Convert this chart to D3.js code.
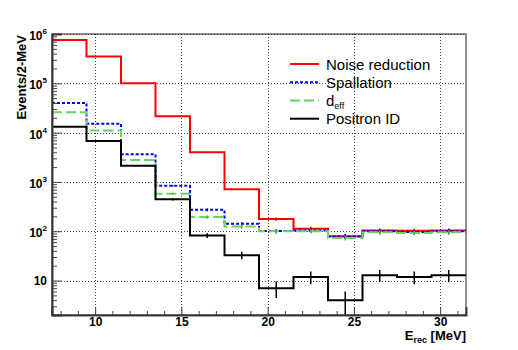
<!DOCTYPE html>
<html>
<head>
<meta charset="utf-8">
<script src="https://cdn.jsdelivr.net/npm/d3@7"></script>
<style>
  body { margin: 0; background: #fff; }
  text { font-family: "Liberation Sans", Arial, sans-serif; }
</style>
</head>
<body>
<svg width="518" height="350"></svg>
<script>
// Bin edges of the 2-MeV histogram bins
const binEdges = [7.5, 9.5, 11.5, 13.5, 15.5, 17.5, 19.5, 21.5, 23.5, 25.5, 27.5, 29.5, 31.5];

// Events per bin after each cut step
const noiseReduction = [7.6e5, 3.5e5, 1.0e5, 2.15e4, 4.0e3, 710, 176, 112, 79, 103, 102, 103];
const noiseErr       = [870, 590, 316, 147, 63, 27, 13, 10.6, 8.9, 10.1, 10.1, 10.1];
const spallation     = [4.0e4, 1.52e4, 3640, 838, 272, 141, 101, 103, 78, 100, 96, 100];
const spallationErr  = [200, 123, 60, 29, 16.5, 11.9, 10, 10.1, 8.8, 10, 9.8, 10];
const dEff           = [2.6e4, 1.1e4, 2790, 576, 194, 125, 100, 100, 73, 95, 92, 95];
const dEffErr        = [161, 105, 53, 24, 14, 11.2, 10, 10, 8.5, 9.7, 9.6, 9.7];
const positronId     = [1.32e4, 6780, 2140, 443, 82, 32.7, 7.0, 11.8, 4.0, 12.8, 11.8, 12.8];
const positronErr    = [115, 82, 46, 21, 9.1, 5.7, 2.6, 3.4, 2.0, 3.6, 3.4, 3.6];

// Axis ticks
const xTicks = [10, 15, 20, 25, 30];
const xMinorTicks = [8, 9, 11, 12, 13, 14, 16, 17, 18, 19, 21, 22, 23, 24, 26, 27, 28, 29, 31];
const yTicks = [10, 1e2, 1e3, 1e4, 1e5, 1e6];
const yTickExp = ["", "2", "3", "4", "5", "6"];

const svg = d3.select("svg");
const frame = { left: 52, right: 466, top: 34, bottom: 315 };

const x = d3.scaleLinear().domain([7.5, 31.5]).range([frame.left, frame.right]);
const y = d3.scaleLog().domain([2, 1e6]).range([frame.bottom, frame.top]);

// grid
const grid = svg.append("g").attr("class", "grid")
    .attr("stroke", "#444").attr("stroke-width", 1).attr("stroke-dasharray", "1,2");
xTicks.forEach(t => {
    grid.append("line")
        .attr("x1", Math.round(x(t)) + 0.5).attr("x2", Math.round(x(t)) + 0.5)
        .attr("y1", frame.top).attr("y2", frame.bottom);
});
yTicks.forEach(t => {
    grid.append("line")
        .attr("x1", frame.left).attr("x2", frame.right)
        .attr("y1", Math.round(y(t)) + 0.5).attr("y2", Math.round(y(t)) + 0.5);
});

// histograms
const series = [
    { name: "Noise reduction", values: noiseReduction, errs: noiseErr, color: "#ff0000", dash: null },
    { name: "Spallation", values: spallation, errs: spallationErr, color: "#0000ff", dash: "3,2" },
    { name: "deff", values: dEff, errs: dEffErr, color: "#66d466", dash: "10,4" },
    { name: "Positron ID", values: positronId, errs: positronErr, color: "#000000", dash: null }
];

const stepLine = d3.line().x(p => x(p[0])).y(p => y(p[1]));

series.forEach(s => {
    const pts = s.values.flatMap((v, i) => [[binEdges[i], v], [binEdges[i + 1], v]]);
    svg.append("path")
        .attr("d", stepLine(pts))
        .attr("fill", "none")
        .attr("stroke", s.color)
        .attr("stroke-width", 2)
        .attr("stroke-dasharray", s.dash);

    svg.append("g").selectAll("line")
        .data(s.values)
        .join("line")
        .attr("x1", (v, i) => x((binEdges[i] + binEdges[i + 1]) / 2))
        .attr("x2", (v, i) => x((binEdges[i] + binEdges[i + 1]) / 2))
        .attr("y1", (v, i) => y(Math.max(v - s.errs[i], 2)))
        .attr("y2", (v, i) => y(v + s.errs[i]))
        .attr("stroke", s.color === "#000000" ? "#000" : d3.color(s.color).darker(0.6))
        .attr("stroke-width", 1.5);
});

// axes (ROOT style: ticks pointing inside)
const xAxis = svg.append("g")
    .attr("transform", `translate(0,${frame.bottom})`)
    .call(d3.axisBottom(x).tickValues(xTicks).tickSize(-8).tickPadding(2).tickFormat(d3.format("d")));
svg.append("g")
    .attr("transform", `translate(0,${frame.bottom})`)
    .call(d3.axisBottom(x).tickValues(xMinorTicks).tickSize(-4).tickFormat(""))
    .call(g => g.select(".domain").remove());

const yAxis = svg.append("g")
    .attr("transform", `translate(${frame.left},0)`)
    .call(d3.axisLeft(y).tickValues(yTicks).tickSize(-10).tickPadding(5).tickFormat(""));
svg.append("g")
    .attr("transform", `translate(${frame.left},0)`)
    .call(d3.axisLeft(y).tickValues(y.ticks().filter(t => !yTicks.includes(t))).tickSize(-5).tickFormat(""))
    .call(g => g.select(".domain").remove());

svg.selectAll(".tick line").attr("stroke", "#444");
svg.selectAll(".domain").attr("stroke", "#444").attr("stroke-width", 2);

xAxis.selectAll(".tick text")
    .attr("font-size", 12).attr("font-weight", "bold").attr("fill", "#000")
    .attr("font-family", "Liberation Sans, Arial, sans-serif");

// y tick labels with superscript exponents
yTicks.forEach((t, i) => {
    const lbl = svg.append("text")
        .attr("x", frame.left - 5)
        .attr("y", y(t) + (yTickExp[i] ? 6 : 4.5))
        .attr("text-anchor", "end")
        .attr("font-size", 12)
        .attr("font-weight", "bold");
    lbl.append("tspan").text("10");
    if (yTickExp[i]) {
        lbl.append("tspan").attr("font-size", 8).attr("dy", -6).text(yTickExp[i]);
    }
});

// frame
svg.append("rect")
    .attr("x", frame.left).attr("y", frame.top)
    .attr("width", frame.right - frame.left).attr("height", frame.bottom - frame.top)
    .attr("fill", "none").attr("stroke", "#222").attr("stroke-width", 1);

// axis titles
const xTitle = svg.append("text")
    .attr("x", frame.right).attr("y", 340)
    .attr("text-anchor", "end")
    .attr("font-size", 13).attr("font-weight", "bold");
xTitle.append("tspan").text("E");
xTitle.append("tspan").attr("font-size", 9).attr("dy", 3).text("rec");
xTitle.append("tspan").attr("dy", -3).text(" [MeV]");

svg.append("text")
    .attr("transform", `translate(25.5,${frame.top + 1}) rotate(-90)`)
    .attr("text-anchor", "end")
    .attr("font-size", 13).attr("font-weight", "bold")
    .text("Events/2-MeV");

// legend
const legend = svg.append("g");
const rowY = [64, 82.3, 100.5, 118.7];
series.forEach((s, i) => {
    legend.append("line")
        .attr("x1", 290).attr("x2", 319)
        .attr("y1", rowY[i]).attr("y2", rowY[i])
        .attr("stroke", s.color).attr("stroke-width", 2)
        .attr("stroke-dasharray", s.dash);
    const t = legend.append("text")
        .attr("x", 326).attr("y", rowY[i] + 5.5)
        .attr("font-size", 15);
    if (s.name === "deff") {
        t.append("tspan").text("d");
        t.append("tspan").attr("font-size", 9).attr("dy", 3).text("eff");
    } else {
        t.text(s.name);
    }
});
</script>
</body>
</html>
